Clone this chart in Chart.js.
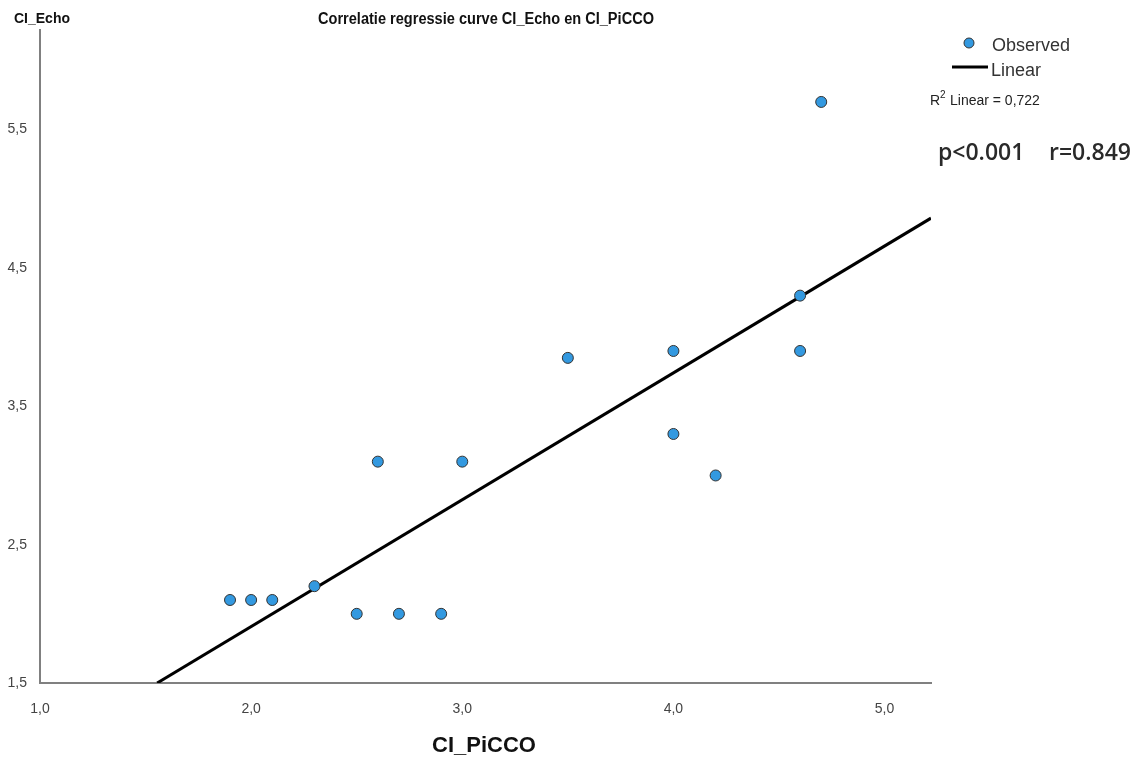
<!DOCTYPE html>
<html>
<head>
<meta charset="utf-8">
<script src="https://cdn.jsdelivr.net/npm/chart.js@4"></script>
<style>
  body { margin: 0; background: #fff; }
  canvas { display: block; }
</style>
</head>
<body>
<canvas id="chart" width="1145" height="763"></canvas>
<script>
// Observed CI values (PiCCO on x, Echo on y)
const ciPicco = [1.9, 2.0, 2.1, 2.3, 2.5, 2.7, 2.9, 2.6, 3.0, 3.5, 4.0, 4.0, 4.2, 4.6, 4.6, 4.7];
const ciEcho  = [2.1, 2.1, 2.1, 2.2, 2.0, 2.0, 2.0, 3.1, 3.1, 3.85, 3.9, 3.3, 3.0, 4.3, 3.9, 5.7];

// Fitted line end points as drawn
const fitX = [1.555, 5.22];
const fitY = [1.5, 4.86];

const xTicks = [1.0, 2.0, 3.0, 4.0, 5.0];
const yTicks = [1.5, 2.5, 3.5, 4.5, 5.5];

const fmt = v => v.toFixed(1).replace('.', ',');
const SANS = '"Liberation Sans", Arial, sans-serif';

// Title, axis titles and legend text
const textPlugin = {
    id: 'texts',
    afterDraw(chart) {
        const ctx = chart.ctx;
        ctx.save();
        ctx.fillStyle = '#111';
        ctx.textBaseline = 'middle';

        ctx.font = 'bold 16px ' + SANS;
        ctx.textAlign = 'center';
        ctx.fillText('Correlatie regressie curve CI_Echo en CI_PiCCO', 486, 20, 336);

        ctx.font = 'bold 14px ' + SANS;
        ctx.textAlign = 'left';
        ctx.fillText('CI_Echo', 14, 19, 63);

        ctx.font = 'bold 22px ' + SANS;
        ctx.textAlign = 'center';
        ctx.fillText('CI_PiCCO', 484, 746, 110);

        // legend
        ctx.beginPath();
        ctx.arc(969, 43, 5, 0, Math.PI * 2);
        ctx.fillStyle = '#3399e0';
        ctx.fill();
        ctx.lineWidth = 1;
        ctx.strokeStyle = '#333';
        ctx.stroke();

        ctx.beginPath();
        ctx.moveTo(952, 67);
        ctx.lineTo(988, 67);
        ctx.lineWidth = 3;
        ctx.strokeStyle = '#000';
        ctx.stroke();

        ctx.fillStyle = '#333';
        ctx.textAlign = 'left';
        ctx.font = '18px ' + SANS;
        ctx.fillText('Observed', 992, 46, 82);
        ctx.fillText('Linear', 991, 71, 55);

        ctx.fillStyle = '#222';
        ctx.font = '14px ' + SANS;
        ctx.fillText('R', 930, 101);
        ctx.font = '10px ' + SANS;
        ctx.fillText('2', 940, 95);
        ctx.font = '14px ' + SANS;
        ctx.fillText('Linear = 0,722', 950, 101, 93);

        ctx.font = '600 23px "Open Sans", "Noto Sans", sans-serif';
        ctx.fillStyle = '#2a2a2a';
        ctx.fillText('p<0.001', 938, 153, 89);
        ctx.fillText('r=0.849', 1049, 153, 92);
        ctx.restore();
    }
};

new Chart(document.getElementById('chart'), {
    type: 'scatter',
    data: {
        datasets: [
            {
                label: 'Observed',
                data: ciPicco.map((x, i) => ({ x: x, y: ciEcho[i] })),
                backgroundColor: '#3399e0',
                borderColor: '#333',
                borderWidth: 1,
                pointRadius: 5.5,
                order: 1
            },
            {
                label: 'Linear',
                data: fitX.map((x, i) => ({ x: x, y: fitY[i] })),
                showLine: true,
                borderColor: '#000',
                borderWidth: 3,
                pointRadius: 0,
                order: 2
            }
        ]
    },
    options: {
        responsive: false,
        animation: false,
        layout: { padding: { top: 30, right: 214, left: 0, bottom: 0 } },
        plugins: {
            legend: { display: false },
            title: { display: false },
            tooltip: { enabled: false }
        },
        scales: {
            x: {
                type: 'linear',
                min: 1.0,
                max: 5.22,
                afterBuildTicks: s => { s.ticks = xTicks.map(v => ({ value: v })); },
                afterFit: s => { s.height = 80; },
                grid: { display: false },
                border: { display: true, color: '#808080', width: 2 },
                ticks: {
                    padding: 10,
                    color: '#444',
                    font: { family: SANS, size: 14 },
                    callback: v => fmt(v),
                    maxRotation: 0
                }
            },
            y: {
                type: 'linear',
                min: 1.5,
                max: 6.22,
                afterBuildTicks: s => { s.ticks = yTicks.map(v => ({ value: v })); },
                afterFit: s => { s.width = 40; },
                grid: { display: false },
                border: { display: true, color: '#808080', width: 2 },
                ticks: {
                    padding: 5,
                    color: '#444',
                    font: { family: SANS, size: 14 },
                    callback: v => fmt(v)
                }
            }
        }
    },
    plugins: [textPlugin]
});
</script>
</body>
</html>
